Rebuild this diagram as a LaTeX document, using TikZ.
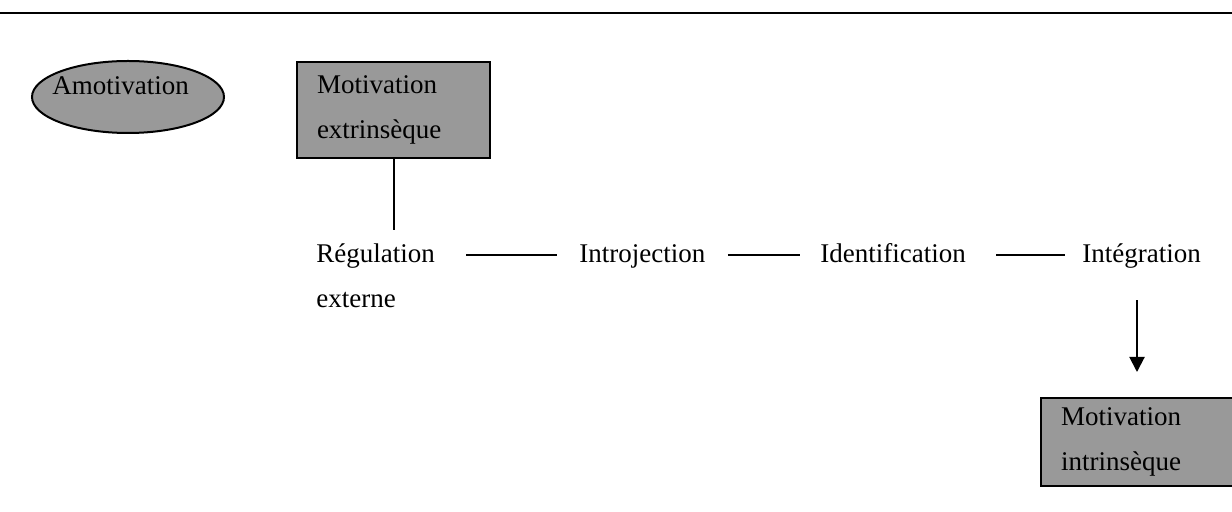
\documentclass[tikz,border=0pt]{standalone}
\usepackage{fontspec}
\setmainfont{Liberation Serif}
\usetikzlibrary{shapes.geometric, arrows.meta}

\definecolor{boxgray}{gray}{0.6}

\tikzset{
    word/.style={inner sep=0pt, anchor=base west},
    graybox/.style={draw, line width=1pt, fill=boxgray, rectangle, align=left,
        inner xsep=10pt, inner ysep=0pt, anchor=north west},
    link/.style={line width=1pt},
    arrow/.style={line width=1pt, -{Triangle[width=7.5pt, length=7.5pt]}}
}

\begin{document}
\begin{tikzpicture}[x=0.5pt, y=-0.5pt, font=\fontsize{13.5}{22.5}\selectfont]
        \useasboundingbox (0,0) rectangle (1232,512);

        % Header rule
        \draw[line width=1pt] (0,13) -- (1232,13);

        % Amotivation
        \node[draw, line width=1pt, fill=boxgray, ellipse, inner sep=0pt,
            minimum width=96pt, minimum height=36pt] (amot) at (128,97) {};
        \node[word] (amottext) at (52,95) {Amotivation};

        % Boxes
        \node[graybox, text width=76.5pt, minimum height=48pt] (ext) at (296,61)
            {Motivation\\extrinsèque};
        \node[graybox, text width=76pt, minimum height=44pt] (int) at (1040,397)
            {Motivation\\intrinsèque};

        % Regulation styles
        \node[word, align=left] (reg) at (316,308) {Régulation\\externe};
        \node[word] (intro) at (579,263) {Introjection};
        \node[word] (ident) at (820,263) {Identification};
        \node[word] (integ) at (1082,263) {Intégration};

        % Connectors
        \draw[link] (ext.south) -- (ext.south |- 0,230);
        \draw[link, shorten <=15.5pt, shorten >=11pt] ([yshift=1.5pt]intro.mid west -| reg.east) -- ([yshift=1.5pt]intro.mid west);
        \draw[link, shorten <=11pt, shorten >=10pt] ([yshift=1.5pt]intro.mid east) -- ([yshift=1.5pt]ident.mid west);
        \draw[link, shorten <=15pt, shorten >=8.5pt] ([yshift=1.5pt]ident.mid east) -- ([yshift=1.5pt]integ.mid west);
        \draw[arrow, shorten <=15.5pt, shorten >=12.5pt] (integ.south -| int.north) -- (int.north);

    \end{tikzpicture}
\end{document}
